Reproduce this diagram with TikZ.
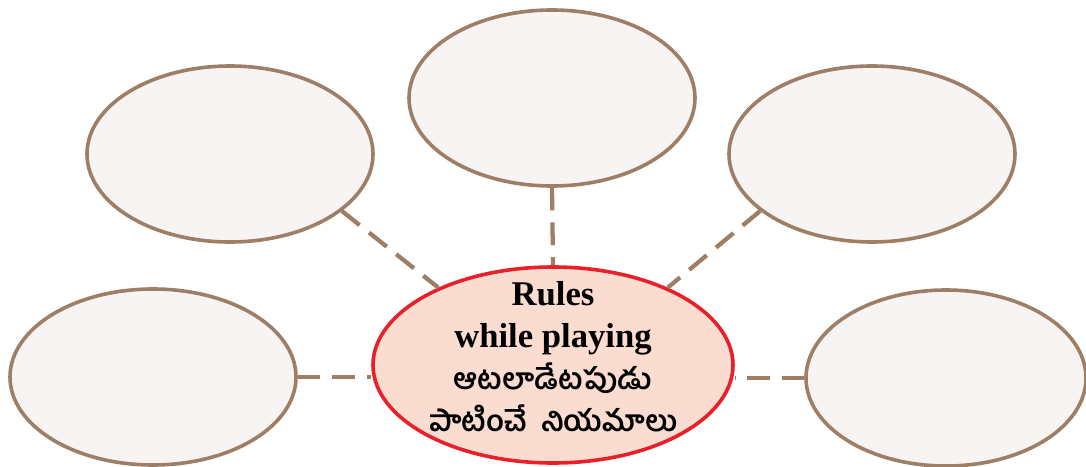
\documentclass[tikz,border=0pt]{standalone}
\usepackage{fontspec}
\setmainfont{Liberation Serif}
\newfontfamily\telugu[Script=Telugu]{Hind Guntur}
\usetikzlibrary{shapes.geometric}
\definecolor{bubble edge}{HTML}{9E7E65}
\definecolor{bubble area}{HTML}{F8F4F3}
\definecolor{hub edge}{HTML}{E8202A}
\definecolor{hub area}{HTML}{FBDCD0}
\tikzset{bubble/.style={ellipse, draw=bubble edge, fill=bubble area, line width=2.7pt,
        minimum width=286*0.75pt, minimum height=176*0.75pt, inner sep=0pt},
    hub/.style={ellipse, draw=hub edge, fill=hub area, line width=2.7pt,
        minimum width=360*0.75pt, minimum height=196*0.75pt, inner sep=0pt},
    hubtext/.style={align=center, inner sep=0pt, font=\bfseries\fontsize{26}{31.5}\selectfont},
    link/.style={draw=bubble edge, line width=3.2pt, dash pattern=on 17pt off 9pt}}

\begin{document}
\begin{tikzpicture}[x=0.75pt, y=-0.75pt]
            \useasboundingbox (0,0) rectangle (1086,467);
            \node[hub] (rules) at (553,365) {};
            \node[hubtext] (rules text) at (553,357) {Rules\\while playing\\
                {\telugu\fontsize{22}{31.5}\selectfont ఆటలాడేటపుడు}\\
                {\telugu\fontsize{22}{31.5}\selectfont పాటించే\ \ నియమాలు}};
            \node[bubble] (topleft) at (230,154) {};
            \node[bubble] (top) at (552,98) {};
            \node[bubble] (topright) at (872,154) {};
            \node[bubble] (left) at (153,377) {};
            \node[bubble, minimum width=280*0.75pt] (right) at (946,378) {};
            \draw[link] (topleft.-27) -- (rules.146);
            \draw[link] (top.south) -- (rules.north);
            \draw[link] (topright.207) -- (rules.34);
            \draw[link] (left.east) -- (rules.west |- left.east);
            \draw[link] (right.west) -- (rules.east |- right.west);
        \end{tikzpicture}
\end{document}
